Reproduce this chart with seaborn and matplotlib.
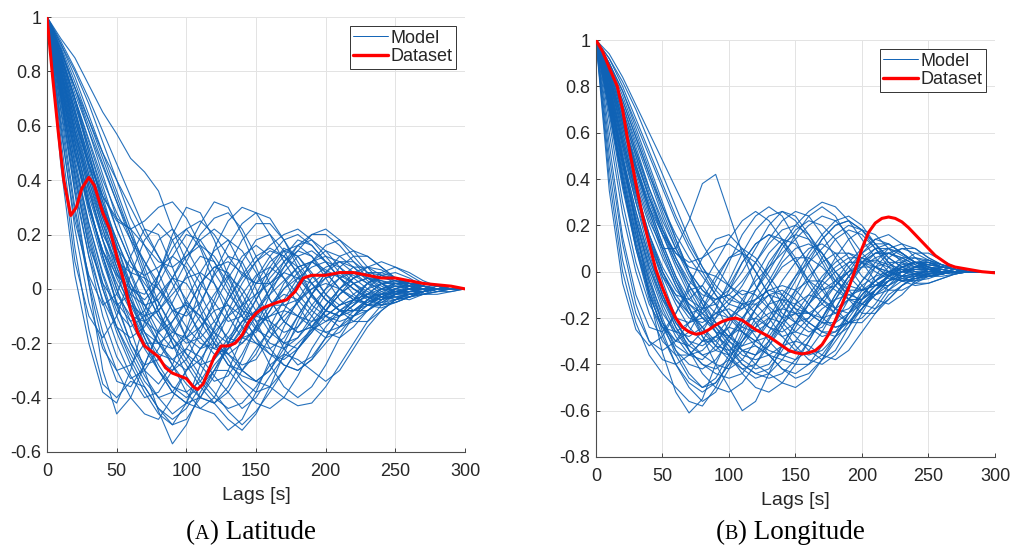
import numpy as np
import pandas as pd
import matplotlib
matplotlib.use("Agg")
import matplotlib.pyplot as plt
import seaborn as sns

# Lag axis for the simulated autocorrelation curves
lags = [0, 10, 20, 30, 40, 50, 60, 70, 80, 90, 100, 110, 120, 130, 140, 150,
        160, 170, 180, 190, 200, 210, 220, 230, 240, 250, 260, 270, 280, 290, 300]

# Latitude: autocorrelation of model runs
lat_model = [
    [1, .92, .85, .75, .65, .57, .48, .43, .36, .22, .10, .02, -.05, -.12, -.10, -.02, .08, .15, .12, .05, -.02, -.06, -.04, .02, .05, .04, .01, -.02, -.02, -.01, 0],
    [1, .85, .70, .55, .40, .28, .18, .10, .02, -.08, -.18, -.22, -.15, -.02, .10, .18, .20, .14, .05, -.03, -.08, -.10, -.06, .00, .05, .06, .04, .01, -.01, -.01, 0],
    [1, .70, .35, .02, -.30, -.46, -.40, -.28, -.15, -.05, .05, .12, .10, .02, -.08, -.15, -.18, -.12, -.05, .02, .06, .05, .02, -.03, -.06, -.05, -.03, -.01, .00, .00, 0],
    [1, .80, .58, .38, .18, .00, -.15, -.30, -.45, -.57, -.50, -.38, -.30, -.22, -.15, -.08, -.02, .03, .08, .10, .07, .04, .00, -.03, -.05, -.04, -.02, -.01, .00, .00, 0],
    [1, .78, .55, .32, .12, -.05, -.12, -.08, .05, .20, .30, .28, .18, .05, -.05, -.12, -.10, -.05, .02, .10, .14, .12, .08, .03, -.01, -.03, -.04, -.02, .00, .00, 0],
    [1, .82, .62, .45, .30, .18, .05, -.08, -.18, -.28, -.35, -.40, -.42, -.38, -.30, -.22, -.15, -.10, -.05, .00, .02, .00, -.03, -.06, -.05, -.02, .01, .02, .01, .00, 0],
    [1, .75, .50, .28, .10, -.05, -.20, -.30, -.35, -.28, -.15, .00, .15, .25, .30, .28, .20, .10, .02, -.06, -.10, -.12, -.10, -.06, -.02, .02, .03, .02, .01, .00, 0],
    [1, .88, .72, .58, .45, .32, .20, .10, .00, -.08, -.10, -.05, .05, .12, .10, .00, -.12, -.22, -.28, -.25, -.18, -.10, -.04, .02, .06, .08, .06, .03, .01, .00, 0],
    [1, .72, .42, .15, -.05, -.20, -.32, -.40, -.38, -.30, -.22, -.25, -.32, -.38, -.44, -.40, -.32, -.25, -.20, -.15, -.12, -.08, -.05, -.03, -.02, -.02, -.01, -.01, .00, .00, 0],
    [1, .80, .60, .42, .26, .15, .08, .05, .08, .12, .08, -.02, -.12, -.18, -.20, -.15, -.08, .00, .06, .10, .12, .10, .06, .02, -.02, -.04, -.03, -.02, -.01, .00, 0],
    [1, .84, .66, .48, .32, .18, .06, -.06, -.16, -.22, -.18, -.10, -.02, .05, .00, -.08, -.16, -.20, -.18, -.12, -.06, .00, .04, .06, .05, .03, .01, .00, .00, .00, 0],
    [1, .68, .38, .12, -.10, -.25, -.33, -.30, -.22, -.12, -.05, -.10, -.18, -.26, -.34, -.38, -.36, -.30, -.22, -.15, -.08, -.02, .02, .04, .03, .02, .01, .00, .00, .00, 0],
    [1, .86, .70, .54, .38, .22, .10, .02, -.05, -.14, -.24, -.32, -.38, -.45, -.50, -.45, -.38, -.30, -.22, -.16, -.10, -.06, -.04, -.02, -.02, -.01, -.01, .00, .00, .00, 0],
    [1, .76, .52, .30, .14, .05, .00, -.02, .05, .15, .22, .25, .20, .12, .05, .02, .06, .12, .18, .16, .10, .04, .00, -.03, -.04, -.02, .00, .01, .01, .00, 0],
    [1, .90, .78, .64, .50, .36, .22, .08, -.05, -.15, -.20, -.18, -.12, -.04, .05, .12, .15, .12, .08, .02, -.04, -.08, -.08, -.05, -.02, .00, .01, .01, .00, .00, 0],
    [1, .74, .48, .24, .05, -.10, -.22, -.32, -.40, -.46, -.42, -.32, -.20, -.10, -.02, .05, .08, .04, -.02, -.08, -.12, -.10, -.06, -.02, .02, .03, .02, .01, .00, .00, 0],
    [1, .82, .64, .46, .30, .16, .02, -.10, -.20, -.26, -.30, -.26, -.18, -.08, .02, .10, .16, .20, .22, .18, .12, .06, .02, -.01, -.03, -.03, -.02, -.01, .00, .00, 0],
    [1, .70, .40, .16, .02, -.06, -.02, .08, .18, .22, .15, .05, -.08, -.20, -.30, -.34, -.30, -.22, -.14, -.06, .00, .04, .06, .05, .03, .01, .00, -.01, .00, .00, 0],
    [1, .87, .74, .60, .46, .32, .18, .04, -.08, -.18, -.26, -.34, -.40, -.44, -.42, -.36, -.28, -.24, -.26, -.30, -.34, -.30, -.22, -.14, -.08, -.04, -.02, -.01, .00, .00, 0],
    [1, .78, .56, .36, .20, .10, .06, .04, .00, -.06, -.14, -.20, -.22, -.16, -.06, .04, .12, .18, .20, .16, .10, .04, .00, -.04, -.06, -.05, -.03, -.01, .00, .00, 0],
    [1, .83, .65, .48, .34, .25, .22, .25, .30, .32, .26, .16, .06, -.02, -.08, -.10, -.06, .00, .04, .02, -.04, -.08, -.10, -.08, -.04, .00, .02, .02, .01, .00, 0],
    [1, .73, .46, .22, .02, -.14, -.26, -.36, -.44, -.48, -.44, -.36, -.28, -.22, -.18, -.20, -.24, -.28, -.30, -.26, -.20, -.14, -.08, -.04, -.02, -.01, .00, .00, .00, .00, 0],
    [1, .80, .58, .38, .22, .08, -.04, -.12, -.16, -.12, -.04, .06, .14, .18, .14, .06, -.04, -.12, -.16, -.14, -.08, -.02, .04, .08, .10, .08, .05, .02, .01, .00, 0],
    [1, .88, .74, .62, .50, .40, .30, .20, .12, .04, -.04, -.12, -.20, -.28, -.32, -.34, -.36, -.40, -.43, -.42, -.36, -.28, -.20, -.12, -.06, -.02, .00, .00, .00, .00, 0],
    [1, .76, .52, .30, .12, -.02, -.10, -.12, -.08, .00, .10, .20, .26, .28, .22, .12, .02, -.06, -.10, -.12, -.10, -.06, -.02, .02, .04, .04, .03, .02, .01, .00, 0],
    [1, .85, .68, .52, .36, .22, .10, .00, -.10, -.20, -.28, -.36, -.42, -.48, -.52, -.46, -.36, -.24, -.12, -.02, .06, .12, .14, .12, .08, .04, .02, .01, .00, .00, 0],
    [1, .71, .42, .18, .00, -.14, -.24, -.34, -.40, -.38, -.30, -.22, -.16, -.10, -.06, -.02, .02, .08, .14, .20, .22, .18, .12, .06, .02, -.01, -.02, -.02, -.01, .00, 0],
    [1, .79, .58, .40, .24, .12, .02, -.06, -.12, -.18, -.24, -.28, -.26, -.20, -.12, -.04, .04, .10, .14, .12, .06, .00, -.04, -.06, -.06, -.04, -.02, -.01, .00, .00, 0],
    [1, .86, .70, .52, .34, .16, .00, -.12, -.20, -.22, -.16, -.06, .06, .16, .24, .28, .26, .18, .08, -.02, -.10, -.14, -.12, -.08, -.04, -.01, .01, .01, .00, .00, 0],
    [1, .74, .50, .30, .14, .02, -.08, -.18, -.28, -.36, -.40, -.36, -.30, -.30, -.36, -.42, -.44, -.40, -.32, -.22, -.14, -.08, -.04, -.02, .00, .01, .01, .00, .00, .00, 0],
    [1, .45, .05, -.20, -.38, -.42, -.30, -.12, .05, .18, .22, .15, .02, -.10, -.18, -.16, -.08, .02, .08, .10, .06, .00, -.04, -.05, -.03, .00, .02, .02, .01, .00, 0],
    [1, .55, .15, -.15, -.35, -.40, -.34, -.36, -.44, -.50, -.42, -.28, -.14, -.04, .04, .10, .14, .12, .06, -.02, -.08, -.10, -.06, -.02, .02, .03, .02, .01, .00, .00, 0],
    [1, .50, .10, -.10, -.18, -.10, .05, .18, .24, .18, .06, -.08, -.20, -.28, -.30, -.24, -.14, -.04, .04, .08, .10, .08, .04, .00, -.03, -.04, -.03, -.01, .00, .00, 0],
    [1, .60, .22, -.05, -.22, -.30, -.28, -.20, -.20, -.28, -.38, -.44, -.40, -.30, -.18, -.08, .00, .06, .04, -.02, -.08, -.10, -.08, -.04, -.01, .01, .01, .00, .00, .00, 0],
    [1, .58, .25, .05, -.06, -.02, .12, .22, .20, .08, -.06, -.18, -.24, -.22, -.14, -.04, .06, .14, .16, .12, .04, -.04, -.08, -.08, -.05, -.02, .00, .01, .00, .00, 0],
    [1, .65, .30, .04, -.16, -.30, -.40, -.46, -.48, -.40, -.30, -.22, -.20, -.24, -.30, -.34, -.30, -.20, -.10, -.02, .04, .06, .05, .02, .00, -.01, -.01, .00, .00, .00, 0],
    [1, .90, .80, .68, .54, .40, .26, .16, .10, .08, .12, .18, .22, .18, .08, -.04, -.14, -.20, -.22, -.16, -.08, .00, .06, .08, .07, .04, .02, .00, .00, .00, 0],
    [1, .87, .70, .50, .30, .12, -.04, -.18, -.30, -.38, -.42, -.44, -.46, -.52, -.48, -.38, -.26, -.14, -.04, .04, .08, .10, .08, .04, .01, -.01, -.01, -.01, .00, .00, 0],
    [1, .80, .62, .46, .34, .26, .22, .16, .06, -.06, -.18, -.28, -.34, -.32, -.24, -.14, -.06, -.02, -.04, -.10, -.16, -.18, -.14, -.08, -.04, -.02, -.01, .00, .00, .00, 0],
    [1, .77, .54, .32, .12, -.06, -.20, -.28, -.26, -.18, -.08, .02, .08, .06, -.02, -.12, -.22, -.28, -.30, -.26, -.18, -.10, -.04, .00, .02, .02, .01, .00, .00, .00, 0],
    [1, .84, .66, .46, .28, .12, .00, -.04, .02, .12, .20, .18, .10, .00, -.10, -.18, -.24, -.26, -.22, -.14, -.06, .00, .04, .06, .06, .04, .02, .01, .00, .00, 0],
    [1, .72, .46, .24, .06, -.08, -.14, -.10, -.02, .04, .02, -.06, -.16, -.24, -.28, -.26, -.18, -.08, .02, .10, .16, .18, .14, .08, .02, -.02, -.03, -.02, -.01, .00, 0],
    [1, .89, .76, .62, .48, .34, .20, .06, -.08, -.20, -.32, -.40, -.42, -.36, -.26, -.14, -.02, .08, .16, .20, .20, .16, .10, .04, .00, -.02, -.02, -.01, .00, .00, 0],
    [1, .66, .36, .12, -.04, -.14, -.18, -.14, -.06, .04, .12, .16, .12, .04, -.06, -.14, -.20, -.22, -.18, -.10, -.02, .04, .08, .08, .05, .02, .00, -.01, .00, .00, 0],
    [1, .81, .60, .40, .22, .06, -.08, -.20, -.30, -.38, -.42, -.40, -.32, -.20, -.08, .02, .10, .14, .12, .06, -.02, -.08, -.12, -.12, -.08, -.04, -.01, .00, .00, .00, 0],
    [1, .91, .81, .70, .58, .46, .34, .22, .12, .02, -.08, -.16, -.22, -.24, -.20, -.14, -.10, -.08, -.10, -.14, -.16, -.14, -.10, -.06, -.03, -.01, .00, .00, .00, .00, 0],
    [1, .74, .50, .30, .14, .00, -.12, -.22, -.30, -.36, -.38, -.34, -.26, -.18, -.12, -.10, -.12, -.16, -.14, -.08, .00, .08, .12, .12, .08, .04, .01, .00, .00, .00, 0],
    [1, .79, .57, .36, .18, .04, -.06, -.10, -.08, -.02, .04, .06, .02, -.06, -.14, -.20, -.22, -.18, -.10, -.02, .06, .10, .10, .06, .02, -.01, -.02, -.01, .00, .00, 0],
    [1, .85, .68, .50, .32, .14, -.02, -.16, -.26, -.30, -.26, -.16, -.04, .08, .18, .24, .24, .18, .10, .02, -.04, -.08, -.08, -.06, -.03, -.01, .00, .00, .00, .00, 0],
    [1, .62, .28, .02, -.20, -.34, -.36, -.28, -.16, -.08, -.06, -.10, -.16, -.20, -.18, -.10, .00, .10, .16, .18, .14, .08, .02, -.02, -.04, -.03, -.02, -.01, .00, .00, 0],
    [1, .83, .64, .44, .26, .10, -.04, -.16, -.24, -.26, -.22, -.14, -.08, -.06, -.10, -.18, -.28, -.36, -.40, -.36, -.28, -.18, -.10, -.04, .00, .02, .02, .01, .00, .00, 0],
    [1, .76, .54, .34, .18, .06, -.02, -.06, -.04, .04, .14, .24, .32, .30, .20, .08, -.04, -.12, -.16, -.14, -.08, -.02, .02, .04, .04, .03, .02, .01, .00, .00, 0],
    [1, .88, .74, .58, .42, .26, .12, .00, -.10, -.16, -.18, -.14, -.06, .04, .12, .16, .12, .04, -.06, -.14, -.18, -.16, -.10, -.04, .00, .02, .02, .01, .00, .00, 0],
    [1, .70, .44, .20, .00, -.16, -.28, -.38, -.46, -.50, -.48, -.40, -.30, -.20, -.12, -.08, -.06, -.06, -.04, .00, .04, .06, .06, .04, .02, .00, -.01, -.01, .00, .00, 0],
    [1, .82, .62, .42, .24, .08, -.06, -.16, -.20, -.16, -.08, .02, .08, .10, .06, .02, .02, .06, .12, .14, .10, .04, -.02, -.06, -.07, -.05, -.03, -.01, .00, .00, 0],
]

# Longitude: autocorrelation of model runs
lon_model = [
    [1, .94, .84, .72, .60, .48, .36, .24, .12, .02, -.06, -.10, -.08, .00, .10, .18, .22, .20, .14, .06, -.02, -.06, -.06, -.02, .02, .04, .03, .02, .01, .00, 0],
    [1, .82, .60, .40, .22, .10, .10, .22, .38, .42, .25, .08, -.06, -.15, -.20, -.18, -.10, -.02, .04, .08, .06, .02, -.02, -.04, -.03, -.02, -.01, .00, .00, .00, 0],
    [1, .78, .50, .20, -.10, -.35, -.52, -.61, -.55, -.40, -.28, -.22, -.20, -.24, -.28, -.26, -.20, -.12, -.06, .00, .04, .05, .03, .01, -.01, -.02, -.01, .00, .00, .00, 0],
    [1, .85, .66, .46, .28, .12, -.02, -.15, -.28, -.40, -.50, -.60, -.56, -.44, -.32, -.22, -.14, -.08, -.04, .00, .02, .02, .00, -.02, -.03, -.02, -.01, .00, .00, .00, 0],
    [1, .76, .48, .22, .00, -.16, -.28, -.36, -.38, -.32, -.22, -.12, -.04, .02, .08, .14, .20, .24, .22, .16, .08, .02, -.02, -.04, -.04, -.02, -.01, .00, .00, .00, 0],
    [1, .90, .76, .60, .44, .28, .14, .00, -.12, -.22, -.30, -.36, -.38, -.36, -.32, -.30, -.32, -.36, -.38, -.34, -.26, -.18, -.10, -.06, -.03, -.01, .00, .00, .00, .00, 0],
    [1, .72, .40, .12, -.10, -.24, -.30, -.26, -.16, -.04, .06, .10, .06, -.02, -.10, -.16, -.18, -.14, -.06, .02, .08, .12, .12, .08, .04, .02, .00, .00, .00, .00, 0],
    [1, .86, .68, .50, .32, .16, .02, -.10, -.20, -.26, -.28, -.24, -.16, -.06, .04, .10, .12, .08, .00, -.08, -.14, -.16, -.12, -.06, -.02, .01, .02, .01, .00, .00, 0],
    [1, .74, .46, .20, -.02, -.20, -.34, -.44, -.50, -.48, -.40, -.34, -.32, -.36, -.42, -.46, -.44, -.38, -.30, -.22, -.14, -.08, -.04, -.02, -.01, .00, .00, .00, .00, .00, 0],
    [1, .82, .62, .44, .28, .16, .08, .04, .06, .10, .12, .08, .00, -.10, -.20, -.26, -.28, -.22, -.12, -.02, .06, .10, .10, .07, .04, .02, .01, .00, .00, .00, 0],
    [1, .88, .72, .54, .36, .20, .06, -.06, -.16, -.24, -.30, -.34, -.36, -.32, -.24, -.14, -.04, .06, .14, .18, .16, .10, .04, .00, -.02, -.02, -.01, .00, .00, .00, 0],
    [1, .70, .38, .10, -.12, -.28, -.40, -.48, -.52, -.48, -.40, -.30, -.22, -.18, -.16, -.18, -.22, -.26, -.26, -.22, -.16, -.10, -.06, -.03, -.02, -.01, .00, .00, .00, .00, 0],
    [1, .84, .64, .44, .26, .10, -.04, -.14, -.20, -.20, -.14, -.06, .04, .14, .22, .26, .24, .16, .06, -.02, -.08, -.10, -.08, -.04, -.01, .01, .01, .00, .00, .00, 0],
    [1, .78, .54, .32, .14, .00, -.10, -.18, -.24, -.30, -.36, -.42, -.46, -.44, -.38, -.30, -.22, -.16, -.12, -.10, -.08, -.06, -.04, -.02, -.01, .00, .00, .00, .00, .00, 0],
    [1, .92, .80, .66, .52, .38, .24, .12, .02, -.06, -.12, -.14, -.12, -.08, -.06, -.08, -.14, -.20, -.24, -.22, -.16, -.08, -.02, .02, .04, .04, .02, .01, .00, .00, 0],
    [1, .75, .48, .24, .04, -.12, -.24, -.32, -.36, -.34, -.28, -.20, -.14, -.10, -.12, -.18, -.24, -.28, -.26, -.18, -.08, .02, .08, .10, .08, .05, .02, .01, .00, .00, 0],
    [1, .86, .70, .52, .34, .18, .04, -.08, -.18, -.26, -.34, -.40, -.44, -.46, -.44, -.38, -.30, -.20, -.10, -.02, .04, .08, .08, .06, .03, .01, .00, .00, .00, .00, 0],
    [1, .80, .58, .36, .16, .00, -.12, -.18, -.16, -.08, .04, .16, .24, .28, .24, .14, .02, -.08, -.16, -.18, -.14, -.08, -.02, .02, .04, .03, .02, .01, .00, .00, 0],
    [1, .72, .42, .16, -.06, -.22, -.32, -.36, -.34, -.28, -.24, -.26, -.30, -.34, -.36, -.34, -.28, -.20, -.12, -.04, .02, .06, .08, .06, .03, .01, .00, .00, .00, .00, 0],
    [1, .88, .74, .58, .42, .28, .16, .06, -.02, -.10, -.18, -.26, -.32, -.36, -.38, -.40, -.40, -.36, -.28, -.18, -.10, -.04, .00, .02, .02, .01, .00, .00, .00, .00, 0],
    [1, .77, .52, .30, .12, -.02, -.10, -.12, -.06, .04, .14, .22, .26, .22, .14, .04, -.04, -.08, -.06, .00, .08, .14, .16, .12, .06, .02, .00, -.01, .00, .00, 0],
    [1, .83, .64, .46, .30, .16, .04, -.06, -.14, -.22, -.28, -.32, -.30, -.22, -.12, -.02, .08, .16, .22, .24, .20, .12, .04, -.02, -.05, -.05, -.03, -.01, .00, .00, 0],
    [1, .70, .40, .14, -.08, -.26, -.40, -.50, -.56, -.52, -.42, -.30, -.20, -.14, -.12, -.14, -.18, -.20, -.18, -.12, -.06, -.02, .00, .01, .01, .00, .00, .00, .00, .00, 0],
    [1, .90, .78, .64, .50, .36, .22, .10, .00, -.10, -.18, -.24, -.26, -.22, -.14, -.04, .06, .14, .20, .22, .18, .12, .06, .02, -.01, -.02, -.01, .00, .00, .00, 0],
    [1, .79, .56, .34, .16, .02, -.08, -.14, -.18, -.22, -.28, -.34, -.40, -.44, -.48, -.50, -.46, -.38, -.28, -.18, -.10, -.04, -.01, .00, .00, .00, .00, .00, .00, .00, 0],
    [1, .84, .66, .48, .32, .18, .08, .02, .00, -.02, -.06, -.12, -.18, -.24, -.26, -.22, -.14, -.04, .06, .14, .18, .16, .10, .04, .00, -.02, -.02, -.01, .00, .00, 0],
    [1, .74, .46, .22, .02, -.14, -.26, -.34, -.40, -.42, -.38, -.28, -.16, -.06, .02, .06, .06, .02, -.04, -.08, -.08, -.04, .00, .03, .04, .03, .02, .01, .00, .00, 0],
    [1, .87, .72, .56, .40, .24, .10, -.02, -.12, -.18, -.20, -.16, -.08, .02, .12, .20, .26, .30, .28, .22, .14, .06, .00, -.03, -.04, -.03, -.01, .00, .00, .00, 0],
    [1, .76, .50, .26, .06, -.10, -.22, -.30, -.32, -.28, -.20, -.14, -.14, -.20, -.28, -.34, -.36, -.34, -.28, -.20, -.12, -.06, -.02, .00, .01, .01, .00, .00, .00, .00, 0],
    [1, .82, .60, .38, .20, .06, -.06, -.16, -.24, -.32, -.38, -.42, -.40, -.32, -.22, -.14, -.10, -.12, -.18, -.22, -.20, -.14, -.06, .00, .04, .05, .03, .01, .00, .00, 0],
    [1, .35, -.05, -.25, -.32, -.28, -.18, -.08, -.06, -.14, -.26, -.34, -.36, -.30, -.20, -.10, -.02, .04, .08, .08, .04, .00, -.03, -.04, -.03, -.01, .00, .00, .00, .00, 0],
    [1, .45, .05, -.18, -.30, -.34, -.30, -.22, -.12, -.02, .06, .08, .04, -.04, -.14, -.22, -.26, -.24, -.16, -.06, .04, .10, .12, .08, .04, .01, .00, .00, .00, .00, 0],
    [1, .40, .00, -.22, -.36, -.44, -.50, -.56, -.58, -.50, -.38, -.26, -.16, -.10, -.08, -.12, -.18, -.22, -.22, -.18, -.12, -.06, -.02, .00, .01, .01, .00, .00, .00, .00, 0],
    [1, .55, .15, -.10, -.24, -.26, -.18, -.06, .06, .14, .16, .10, .00, -.10, -.18, -.22, -.20, -.12, -.04, .04, .10, .14, .12, .08, .04, .02, .01, .00, .00, .00, 0],
    [1, .50, .12, -.14, -.30, -.38, -.40, -.36, -.30, -.28, -.32, -.38, -.42, -.40, -.32, -.22, -.12, -.04, .02, .06, .06, .04, .02, .00, -.01, -.01, .00, .00, .00, .00, 0],
    [1, .60, .25, .00, -.18, -.30, -.36, -.36, -.30, -.20, -.08, .04, .12, .16, .12, .04, -.06, -.14, -.18, -.16, -.10, -.04, .02, .06, .06, .04, .02, .01, .00, .00, 0],
    [1, .65, .30, .04, -.14, -.24, -.26, -.22, -.20, -.24, -.32, -.40, -.44, -.42, -.34, -.24, -.14, -.06, .00, .04, .04, .02, .00, -.02, -.02, -.01, .00, .00, .00, .00, 0],
    [1, .70, .38, .12, -.08, -.22, -.30, -.32, -.26, -.16, -.04, .08, .18, .24, .26, .22, .14, .04, -.06, -.12, -.14, -.10, -.04, .02, .04, .04, .02, .01, .00, .00, 0],
    [1, .92, .82, .70, .56, .42, .28, .14, .02, -.08, -.14, -.16, -.12, -.04, .06, .16, .24, .28, .24, .14, .04, -.04, -.08, -.08, -.05, -.02, .00, .01, .00, .00, 0],
    [1, .84, .64, .44, .26, .10, -.04, -.16, -.26, -.32, -.34, -.30, -.24, -.20, -.22, -.28, -.34, -.38, -.34, -.24, -.12, -.02, .06, .10, .10, .06, .03, .01, .00, .00, 0],
    [1, .78, .54, .30, .08, -.10, -.24, -.34, -.40, -.44, -.46, -.44, -.36, -.26, -.16, -.08, -.04, -.04, -.08, -.12, -.12, -.08, -.04, .00, .02, .02, .01, .00, .00, .00, 0],
    [1, .88, .74, .58, .42, .26, .12, .00, -.08, -.12, -.10, -.04, .04, .12, .18, .20, .16, .08, -.02, -.12, -.18, -.18, -.12, -.06, -.02, .01, .02, .01, .00, .00, 0],
    [1, .73, .44, .18, -.04, -.22, -.36, -.46, -.50, -.46, -.36, -.22, -.08, .04, .12, .16, .14, .08, .00, -.06, -.08, -.06, -.02, .02, .04, .04, .02, .01, .00, .00, 0],
    [1, .81, .58, .36, .16, .00, -.12, -.20, -.22, -.18, -.12, -.08, -.10, -.16, -.24, -.32, -.38, -.40, -.36, -.28, -.18, -.08, -.01, .04, .06, .05, .03, .01, .00, .00, 0],
    [1, .86, .68, .50, .32, .18, .06, -.04, -.10, -.12, -.08, .00, .10, .20, .26, .24, .16, .06, -.04, -.10, -.12, -.08, -.02, .04, .08, .08, .05, .02, .00, .00, 0],
    [1, .77, .50, .26, .06, -.10, -.22, -.30, -.36, -.40, -.42, -.38, -.30, -.20, -.10, -.02, .04, .10, .16, .20, .18, .12, .06, .02, .00, -.01, -.01, .00, .00, .00, 0],
    [1, .90, .78, .62, .46, .30, .14, .00, -.14, -.26, -.36, -.44, -.50, -.52, -.48, -.40, -.30, -.20, -.10, -.02, .04, .08, .08, .05, .02, .00, -.01, .00, .00, .00, 0],
    [1, .75, .48, .22, .02, -.12, -.20, -.22, -.18, -.12, -.10, -.14, -.22, -.30, -.36, -.38, -.34, -.26, -.16, -.06, .02, .08, .10, .08, .04, .01, .00, .00, .00, .00, 0],
    [1, .83, .62, .42, .24, .08, -.06, -.18, -.28, -.34, -.36, -.32, -.24, -.14, -.04, .04, .10, .12, .08, .02, -.06, -.12, -.14, -.10, -.04, .00, .02, .01, .00, .00, 0],
    [1, .68, .36, .10, -.10, -.24, -.34, -.40, -.42, -.38, -.30, -.20, -.12, -.08, -.10, -.16, -.22, -.26, -.28, -.24, -.16, -.08, -.02, .02, .04, .03, .02, .01, .00, .00, 0],
    [1, .87, .70, .52, .36, .22, .10, .00, -.08, -.14, -.20, -.26, -.30, -.28, -.20, -.08, .04, .14, .20, .22, .18, .10, .02, -.04, -.06, -.05, -.03, -.01, .00, .00, 0],
    [1, .80, .56, .34, .14, -.02, -.14, -.24, -.30, -.30, -.24, -.14, -.02, .08, .14, .12, .04, -.06, -.16, -.22, -.22, -.16, -.08, -.02, .02, .03, .02, .01, .00, .00, 0],
    [1, .72, .42, .16, -.04, -.18, -.26, -.28, -.24, -.18, -.16, -.20, -.28, -.36, -.42, -.44, -.40, -.32, -.22, -.12, -.04, .02, .04, .04, .02, .01, .00, .00, .00, .00, 0],
    [1, .85, .66, .46, .28, .12, -.02, -.12, -.16, -.14, -.06, .04, .12, .16, .14, .06, -.04, -.12, -.16, -.12, -.04, .04, .10, .12, .10, .06, .03, .01, .00, .00, 0],
    [1, .79, .56, .34, .14, -.04, -.20, -.34, -.44, -.50, -.52, -.48, -.40, -.30, -.22, -.18, -.18, -.22, -.24, -.22, -.16, -.10, -.04, .00, .02, .02, .01, .00, .00, .00, 0],
]

# Dataset autocorrelation (latitude)
lat_data_lags = [0, 4, 8, 12, 17, 21, 25, 30, 34, 40, 45, 50, 55, 60, 65, 70, 75, 80, 85, 90,
                 95, 100, 105, 108, 112, 116, 120, 125, 130, 135, 140, 145, 150, 155, 160,
                 165, 172, 178, 184, 190, 200, 210, 220, 230, 240, 250, 260, 270, 280, 290, 300]
lat_data = [1.0, 0.78, 0.58, 0.40, 0.27, 0.30, 0.37, 0.41, 0.38, 0.28, 0.22, 0.12, 0.03, -0.08,
            -0.16, -0.21, -0.23, -0.25, -0.29, -0.31, -0.32, -0.33, -0.36, -0.37, -0.35, -0.30,
            -0.25, -0.21, -0.21, -0.20, -0.17, -0.12, -0.09, -0.07, -0.06, -0.05, -0.04, -0.01,
            0.04, 0.05, 0.05, 0.06, 0.06, 0.05, 0.04, 0.04, 0.03, 0.02, 0.015, 0.01, 0.0]

# Dataset autocorrelation (longitude)
lon_data_lags = [0, 5, 10, 16, 20, 25, 30, 35, 40, 45, 50, 55, 60, 65, 70, 75, 80, 85, 90, 95,
                 100, 105, 110, 115, 120, 125, 130, 135, 140, 145, 150, 155, 160, 165, 170,
                 175, 180, 185, 190, 195, 200, 205, 210, 215, 220, 225, 230, 235, 240, 245,
                 250, 255, 260, 265, 270, 280, 290, 300]
lon_data = [1.0, 0.95, 0.88, 0.80, 0.70, 0.53, 0.38, 0.24, 0.12, 0.01, -0.07, -0.14, -0.20,
            -0.24, -0.26, -0.27, -0.265, -0.25, -0.23, -0.215, -0.205, -0.20, -0.21, -0.23,
            -0.25, -0.265, -0.28, -0.30, -0.32, -0.34, -0.35, -0.355, -0.35, -0.34, -0.315,
            -0.27, -0.21, -0.14, -0.07, 0.01, 0.10, 0.17, 0.21, 0.23, 0.236, 0.23, 0.215,
            0.19, 0.16, 0.13, 0.10, 0.07, 0.05, 0.03, 0.02, 0.01, 0.0, -0.005]

lat_yticks = [-0.6, -0.4, -0.2, 0, 0.2, 0.4, 0.6, 0.8, 1]
lon_yticks = [-0.8, -0.6, -0.4, -0.2, 0, 0.2, 0.4, 0.6, 0.8, 1]
xticks = [0, 50, 100, 150, 200, 250, 300]

MODEL_COLOR = "#0F62B5"
DATA_COLOR = "#FF0000"

sns.set_theme(style="whitegrid")
plt.rcParams["font.family"] = ["Liberation Sans", "DejaVu Sans"]


def long_frame(curves):
    rows = []
    for k, curve in enumerate(curves):
        for lag, val in zip(lags, curve):
            rows.append((k, lag, val))
    return pd.DataFrame(rows, columns=["run", "lag", "acf"])


def draw_panel(ax, curves, d_lags, d_vals, yticks):
    df = long_frame(curves)
    sns.lineplot(data=df, x="lag", y="acf", units="run", estimator=None,
                 color=MODEL_COLOR, lw=0.8, alpha=0.9, ax=ax, legend=False)
    sns.lineplot(x=d_lags, y=d_vals, color=DATA_COLOR, lw=2.2, ax=ax, legend=False,
                 zorder=5)
    ax.set_xlim(0, 300)
    ax.set_ylim(yticks[0], yticks[-1])
    ax.set_xticks(xticks)
    ax.set_yticks(yticks)
    ax.set_xticklabels([str(t) for t in xticks])
    ax.set_yticklabels([f"{t:g}" for t in yticks])
    ax.tick_params(axis="both", labelsize=13, colors="#262626", direction="in",
                   length=3, width=0.6, bottom=True, left=True)
    ax.tick_params(axis="x", pad=8)
    ax.tick_params(axis="y", pad=4)
    ax.grid(True, color="#e3e3e3", lw=0.7)
    for side in ("top", "right"):
        ax.spines[side].set_visible(False)
    for side in ("left", "bottom"):
        ax.spines[side].set_color("#4d4d4d")
        ax.spines[side].set_linewidth(0.8)
    ax.set_xlabel("Lags [s]", fontsize=14, color="#262626", labelpad=5)
    ax.set_ylabel("")
    handles = [plt.Line2D([], [], color=MODEL_COLOR, lw=0.7),
               plt.Line2D([], [], color=DATA_COLOR, lw=2.4)]
    leg = ax.legend(handles, ["Model", "Dataset"], loc="upper right", fontsize=13,
                    frameon=True, fancybox=False, framealpha=1, edgecolor="#333333",
                    borderpad=0.2, handlelength=1.9, handletextpad=0.15,
                    labelspacing=0.1, borderaxespad=0.5)
    leg.get_frame().set_linewidth(0.7)


fig = plt.figure(figsize=(10.16, 5.51), dpi=100)
ax1 = fig.add_axes([0.0463, 0.1797, 0.4114, 0.7894])
ax2 = fig.add_axes([0.5866, 0.1706, 0.3927, 0.7568])

draw_panel(ax1, lat_model, lat_data_lags, lat_data, lat_yticks)
draw_panel(ax2, lon_model, lon_data_lags, lon_data, lon_yticks)


def caption(xc, y, letter, word):
    parts = [("(", 19.5), (letter, 14.5), (") " + word, 19.5)]
    texts = [fig.text(0, y, s, fontsize=fs, family=["Liberation Serif", "DejaVu Serif"],
                      va="baseline", ha="left", color="black") for s, fs in parts]
    fig.canvas.draw()
    r = fig.canvas.get_renderer()
    widths = [t.get_window_extent(r).width for t in texts]
    W = fig.bbox.width
    x = xc * W - sum(widths) / 2
    for t, w in zip(texts, widths):
        t.set_x(x / W)
        x += w


caption(0.247, 0.021, "A", "Latitude")
caption(0.7776, 0.021, "B", "Longitude")

fig.savefig("out.png", dpi=100)
